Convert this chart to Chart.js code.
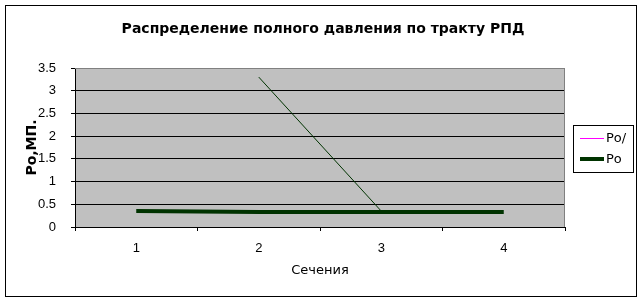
<!DOCTYPE html>
<html>
<head>
<meta charset="utf-8">
<script src="https://cdn.jsdelivr.net/npm/chart.js@4"></script>
<style>
  html, body { margin: 0; padding: 0; background: #fff; }
  #wrap { width: 643px; height: 301px; }
</style>
</head>
<body>
<div id="wrap"><canvas id="chart" width="643" height="301"></canvas></div>
<script>
const sections = ["1", "2", "3", "4"];
const poSlash = [null, 3.3, 0.35, null];
const po = [0.35, 0.33, 0.33, 0.33];
const yTicksMax = 3.5;

const chartTitle = "Распределение полного давления по тракту РПД";
const legendItems = [
    { text: "Pо/", color: "#ff00ff", width: 1 },
    { text: "Pо", color: "#003300", width: 4 }
];

const sans = "'Liberation Sans', Arial, sans-serif";
const wide = "'DejaVu Sans', Verdana, sans-serif";

// фон, рамка, заголовок и легенда
const decor = {
    id: "decor",
    beforeDraw(chart) {
        const c = chart.ctx, a = chart.chartArea;
        c.save();
        c.fillStyle = "#fff";
        c.fillRect(0, 0, chart.width, chart.height);
        c.fillStyle = "#c0c0c0";
        c.fillRect(a.left, a.top, a.right - a.left, a.bottom - a.top);
        c.restore();
    },
    afterDraw(chart) {
        const c = chart.ctx, a = chart.chartArea;
        c.save();
        c.strokeStyle = "#808080";
        c.lineWidth = 1;
        c.beginPath();
        c.moveTo(a.left, a.top + 0.5);
        c.lineTo(a.right - 0.5, a.top + 0.5);
        c.lineTo(a.right - 0.5, a.bottom);
        c.stroke();

        c.strokeStyle = "#000";
        c.strokeRect(5.5, 5.5, 631, 291);

        c.fillStyle = "#000";
        c.font = "bold 14px " + wide;
        c.textAlign = "center";
        c.textBaseline = "middle";
        c.fillText(chartTitle, 323, 29);

        c.strokeRect(573.5, 125.5, 60, 47);
        c.font = "13px " + wide;
        c.textAlign = "left";
        legendItems.forEach((it, i) => {
            const y = 138 + i * 21;
            c.strokeStyle = it.color;
            c.lineWidth = it.width;
            c.beginPath();
            c.moveTo(580, y + (it.width === 1 ? 0.5 : 0));
            c.lineTo(604, y + (it.width === 1 ? 0.5 : 0));
            c.stroke();
            c.fillStyle = "#000";
            c.fillText(it.text, 606, y + 1);
        });
        c.restore();
    }
};

new Chart(document.getElementById("chart"), {
    type: "line",
    data: {
        labels: sections,
        datasets: [
            {
                label: "Pо/",
                data: poSlash,
                borderColor: "#003300",
                borderWidth: 1,
                pointRadius: 0,
                tension: 0
            },
            {
                label: "Pо",
                data: po,
                borderColor: "#003300",
                borderWidth: 4,
                pointRadius: 0,
                tension: 0
            }
        ]
    },
    options: {
        responsive: false,
        animation: false,
        layout: { padding: { left: 0, top: 68, right: 78, bottom: 0 } },
        plugins: {
            legend: { display: false },
            title: { display: false },
            tooltip: { enabled: false }
        },
        scales: {
            x: {
                offset: true,
                afterFit: s => { s.height = 74; },
                grid: {
                    offset: true,
                    drawOnChartArea: false,
                    tickLength: 4,
                    tickColor: "#000"
                },
                border: { color: "#000" },
                ticks: {
                    color: "#000",
                    padding: 10,
                    font: { family: sans, size: 13 }
                },
                title: {
                    display: true,
                    text: "Сечения",
                    color: "#000",
                    padding: { top: 0, bottom: 23 },
                    font: { family: wide, size: 13 }
                }
            },
            y: {
                min: 0,
                max: yTicksMax,
                afterFit: s => { s.width = 75; },
                grid: {
                    color: ctx => ctx.tick && ctx.tick.value === yTicksMax ? "#808080" : "#000",
                    tickColor: "#000",
                    tickLength: 4
                },
                border: { color: "#000" },
                ticks: {
                    stepSize: 0.5,
                    color: "#000",
                    padding: 15,
                    callback: v => String(v),
                    font: { family: sans, size: 13 }
                },
                title: {
                    display: true,
                    text: "Pо,МП.",
                    color: "#000",
                    padding: { top: 24, bottom: 0 },
                    font: { family: wide, size: 14, weight: "bold" }
                }
            }
        }
    },
    plugins: [decor]
});
</script>
</body>
</html>
